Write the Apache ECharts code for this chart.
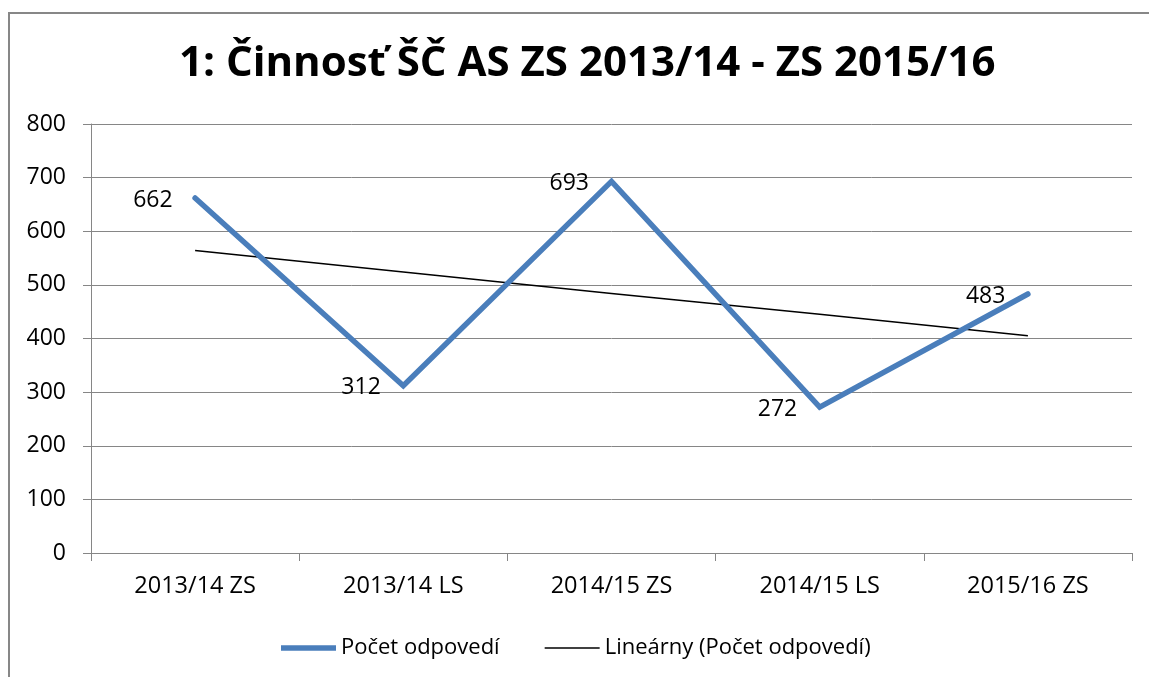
<!DOCTYPE html>
<html><head><meta charset="utf-8">
<script src="https://cdn.jsdelivr.net/npm/echarts@6/dist/echarts.min.js"></script>
<style>html,body{margin:0;padding:0;background:#fff}#c{width:1149px;height:677px}</style>
</head><body><div id="c"></div>
<script>
const categories = ['2013/14 ZS', '2013/14 LS', '2014/15 ZS', '2014/15 LS', '2015/16 ZS'];
const counts = [662, 312, 693, 272, 483];
const trend = [564, 524, 484, 445, 405];
const seriesName = 'Počet odpovedí';
const trendName = 'Lineárny (Počet odpovedí)';
const titleText = '1: Činnosť ŠČ AS ZS 2013/14 - ZS 2015/16';

const FONT = "'Open Sans', sans-serif";
const BLUE = '#4A7EBB';
const chart = echarts.init(document.getElementById('c'), null, {renderer: 'canvas'});
chart.setOption({
  animation: false,
  backgroundColor: '#ffffff',
  graphic: [{
    type: 'rect', silent: true,
    shape: {x: 9, y: 13, width: 1200, height: 720},
    style: {fill: 'none', stroke: '#878787', lineWidth: 2}
  }],
  title: {
    text: titleText, left: 174, top: 38,
    textStyle: {fontFamily: FONT, fontWeight: 'bold', fontSize: 42, color: '#000'}
  },
  legend: {
    left: 276, top: 632, itemWidth: 55, itemHeight: 14, itemGap: 45,
    textStyle: {fontFamily: FONT, fontSize: 22, color: '#000'},
    data: [
      {name: seriesName, icon: 'path://M0,0H55V5.5H0Z', itemStyle: {color: BLUE, opacity: 1}},
      {name: trendName, icon: 'path://M0,0H55V1.5H0Z', itemStyle: {color: '#000', opacity: 1}}
    ]
  },
  grid: {left: 91, right: 17, top: 124, bottom: 124, containLabel: false},
  xAxis: {
    type: 'category', data: categories, boundaryGap: true,
    axisLine: {lineStyle: {color: '#868686', width: 1}},
    axisTick: {show: true, length: 8, lineStyle: {color: '#868686'}},
    axisLabel: {fontFamily: FONT, fontSize: 23.5, color: '#000', margin: 21},
    splitLine: {show: false}
  },
  yAxis: {
    type: 'value', min: 0, max: 800, interval: 100,
    axisLine: {show: true, lineStyle: {color: '#868686', width: 1}},
    axisTick: {show: true, length: 8, lineStyle: {color: '#868686'}},
    axisLabel: {fontFamily: FONT, fontSize: 23, color: '#000', margin: 25},
    splitLine: {show: true, lineStyle: {color: '#868686', width: 1}}
  },
  series: [{
    name: seriesName, type: 'line', data: counts,
    symbol: 'circle', symbolSize: 1, showSymbol: true, z: 3,
    lineStyle: {color: BLUE, width: 5.5, cap: 'round', join: 'miter'},
    itemStyle: {color: 'rgba(0,0,0,0)'},
    label: {show: true, position: 'left', distance: 22, offset: [0, 2],
      fontFamily: FONT, fontSize: 23, color: '#000'}
  }, {
    name: trendName, type: 'line', data: trend,
    symbol: 'none', z: 2,
    lineStyle: {color: '#000', width: 1.5},
    itemStyle: {color: '#000'}
  }]
});
</script></body></html>
